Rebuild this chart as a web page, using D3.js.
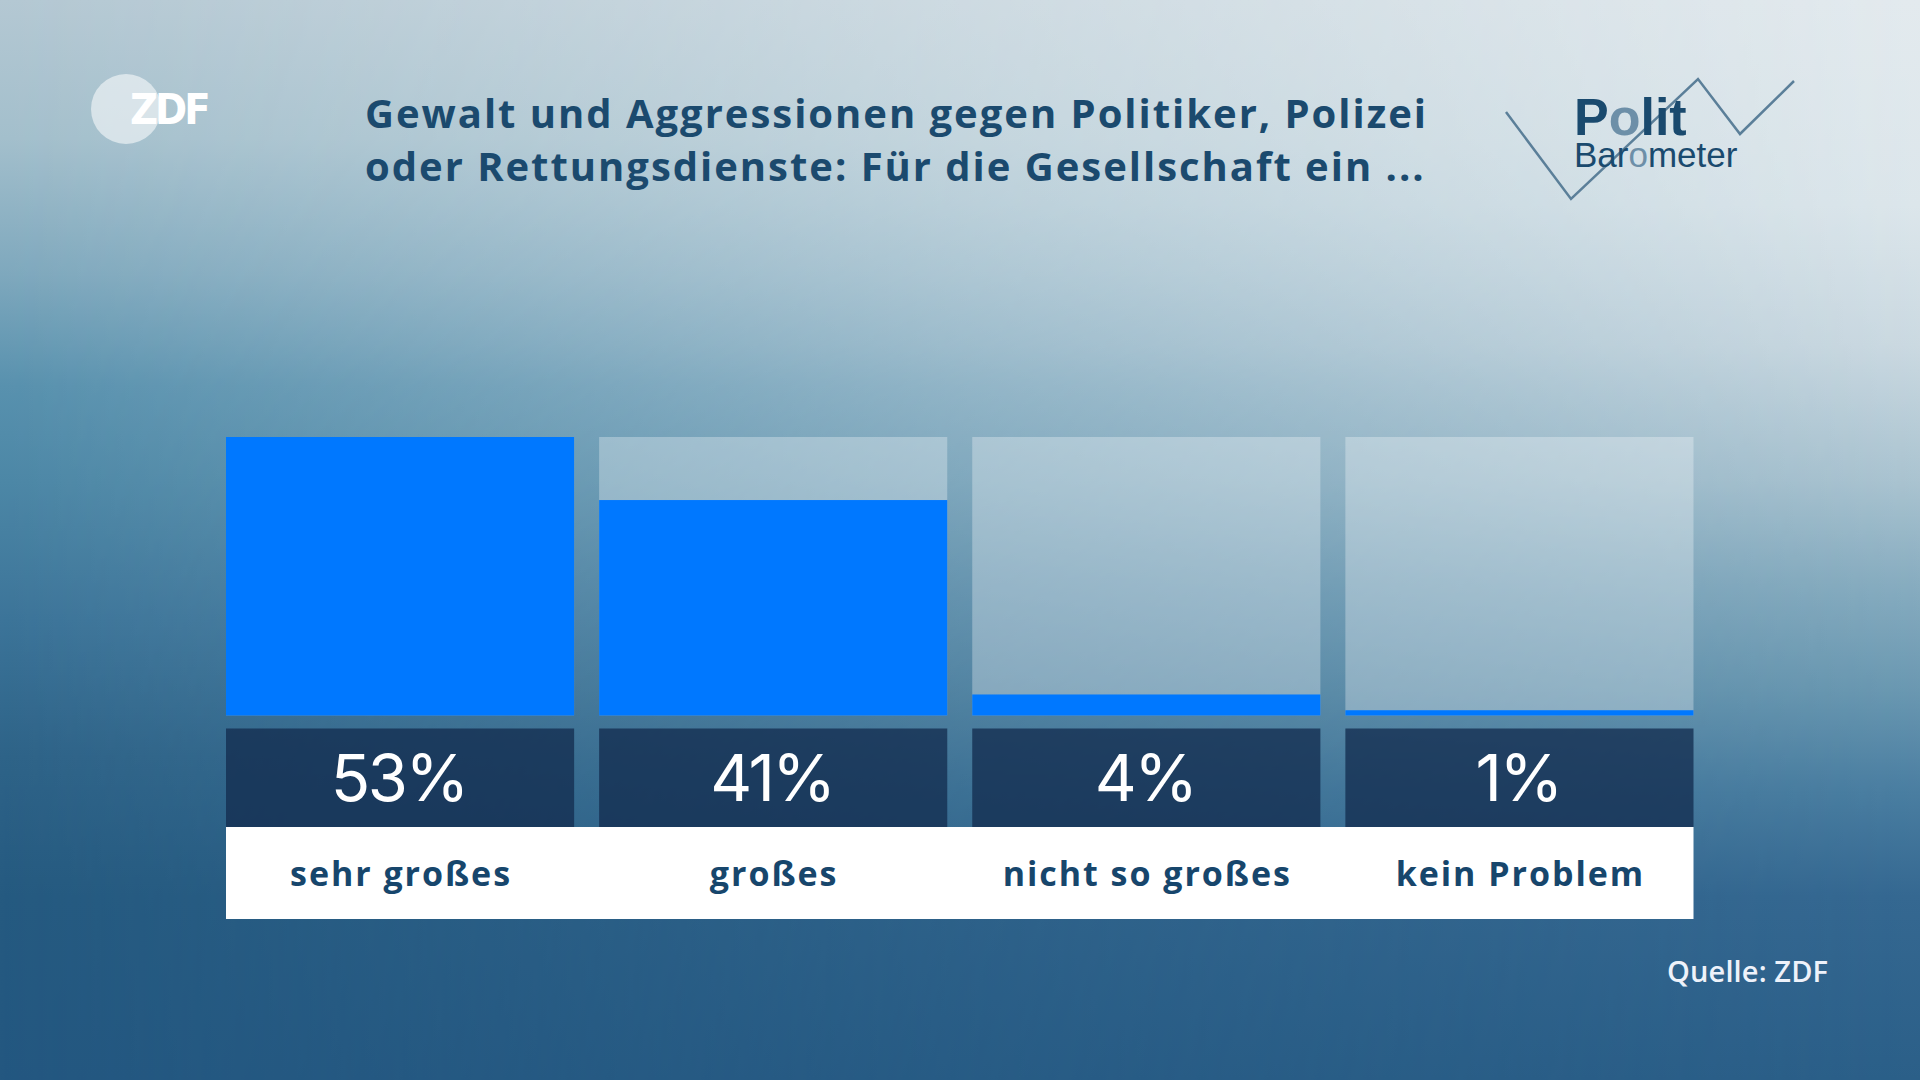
<!DOCTYPE html>
<html>
<head>
<meta charset="utf-8">
<script src="https://cdn.jsdelivr.net/npm/d3@7"></script>
<style>
  html, body { margin: 0; padding: 0; width: 1920px; height: 1080px; overflow: hidden; }
  svg { display: block; }
</style>
</head>
<body>
<svg id="chart" width="1920" height="1080"></svg>
<script>
// ---- data ----
const categories = ["sehr großes", "großes", "nicht so großes", "kein Problem"];
const values = [53, 41, 4, 1];
const valueLabels = ["53%", "41%", "4%", "1%"];
const titleLines = ["Gewalt und Aggressionen gegen Politiker, Polizei", "oder Rettungsdienste: Für die Gesellschaft ein ..."];
const sourceText = "Quelle: ZDF";

const svg = d3.select("#chart");
const W = 1920, H = 1080;
const defs = svg.append("defs");

// background: left-edge and right-edge vertical gradients blended horizontally
function vGrad(id, stops) {
  const lg = defs.append("linearGradient").attr("id", id)
    .attr("gradientUnits", "userSpaceOnUse").attr("x1", 0).attr("y1", 0).attr("x2", 0).attr("y2", H);
  stops.forEach(([o, c]) => lg.append("stop").attr("offset", o).attr("stop-color", c));
}
vGrad("bgL", [[0, "#b4c8d3"], [0.128, "#a3bfcc"], [0.255, "#7ea8bd"], [0.357, "#5891ae"], [0.446, "#4c87a6"],
  [0.574, "#3c7499"], [0.70, "#2e6388"], [0.83, "#255a80"], [1, "#235780"]]);
vGrad("bgR", [[0, "#e3eaee"], [0.19, "#dce6eb"], [0.32, "#cbd9e1"], [0.446, "#aac3d0"], [0.54, "#88adc0"],
  [0.64, "#6a98b1"], [0.733, "#4a7ea1"], [0.83, "#356891"], [1, "#2b5f88"]]);
const hm = defs.append("linearGradient").attr("id", "hmask")
  .attr("gradientUnits", "userSpaceOnUse").attr("x1", 0).attr("y1", 0).attr("x2", W).attr("y2", 0);
[[0, "#000"], [0.5, "#8c8c8c"], [1, "#fff"]].forEach(([o, c]) => hm.append("stop").attr("offset", o).attr("stop-color", c));
defs.append("mask").attr("id", "blend").attr("maskUnits", "userSpaceOnUse")
  .attr("x", 0).attr("y", 0).attr("width", W).attr("height", H)
  .append("rect").attr("width", W).attr("height", H).attr("fill", "url(#hmask)");

svg.append("rect").attr("width", W).attr("height", H).attr("fill", "url(#bgL)");
svg.append("rect").attr("width", W).attr("height", H).attr("fill", "url(#bgR)").attr("mask", "url(#blend)");

// fit helper: letter-spacing so a sample text reaches a target width
function fitSpacing(f, sample, target) {
  const tmp = svg.append("text").attr("font-family", f.fam).attr("font-weight", f.wt).attr("font-size", f.size).text(sample);
  const w = tmp.node().getComputedTextLength();
  tmp.remove();
  return (target - w) / (sample.length);
}

// ---- scales ----
const x = d3.scaleBand().domain(categories).range([226, 1693.5]).paddingInner(0.067).paddingOuter(0);
const barTop = 437, barBottom = 715.5;
const y = d3.scaleLinear().domain([0, d3.max(values)]).range([barBottom, barTop]);

const g = svg.append("g");

// slots
g.selectAll("rect.slot").data(categories).join("rect")
  .attr("class", "slot")
  .attr("x", d => x(d)).attr("width", x.bandwidth())
  .attr("y", y(d3.max(values))).attr("height", y(0) - y(d3.max(values)))
  .attr("fill", "#ffffff").attr("fill-opacity", 0.3);

// bars
g.selectAll("rect.bar").data(values).join("rect")
  .attr("class", "bar")
  .attr("x", (d, i) => x(categories[i])).attr("width", x.bandwidth())
  .attr("y", d => y(d)).attr("height", d => y(0) - y(d))
  .attr("fill", "#0078ff");

// dark value boxes
const boxTop = 728.5, boxBottom = 827;
g.selectAll("rect.vbox").data(categories).join("rect")
  .attr("class", "vbox")
  .attr("x", d => x(d)).attr("width", x.bandwidth())
  .attr("y", boxTop).attr("height", boxBottom - boxTop)
  .attr("fill", "#132d4f").attr("fill-opacity", 0.78);

const valFont = { fam: "Inter, sans-serif", wt: 400, size: 65 };
const valLS = fitSpacing(valFont, "53%", 136);
g.selectAll("text.val").data(valueLabels).join("text")
  .attr("class", "val")
  .attr("x", (d, i) => x(categories[i]) + x.bandwidth() / 2 + valLS / 2)
  .attr("y", 801)
  .attr("text-anchor", "middle")
  .attr("font-family", valFont.fam)
  .attr("font-weight", valFont.wt)
  .attr("font-size", valFont.size)
  .attr("letter-spacing", valLS)
  .attr("fill", "#ffffff")
  .text(d => d);

// white label band
const labTop = 827, labBottom = 919;
g.append("rect")
  .attr("x", x.range()[0]).attr("width", x.range()[1] - x.range()[0])
  .attr("y", labTop).attr("height", labBottom - labTop)
  .attr("fill", "#ffffff");

const catFont = { fam: "'Open Sans', sans-serif", wt: 700, size: 34 };
const catLS = fitSpacing(catFont, "sehr großes", 222);
g.selectAll("text.cat").data(categories).join("text")
  .attr("class", "cat")
  .attr("x", d => x(d) + x.bandwidth() / 2 + catLS / 2)
  .attr("y", 886)
  .attr("text-anchor", "middle")
  .attr("font-family", catFont.fam)
  .attr("font-weight", catFont.wt)
  .attr("font-size", catFont.size)
  .attr("letter-spacing", catLS)
  .attr("fill", "#17466c")
  .text(d => d);

// title
const titleFont = { fam: "'Open Sans', sans-serif", wt: 700, size: 40 };
const titleLS = fitSpacing(titleFont, titleLines[0], 1063);
svg.append("g").selectAll("text").data(titleLines).join("text")
  .attr("x", 365)
  .attr("y", (d, i) => 128 + i * 53)
  .attr("font-family", titleFont.fam)
  .attr("font-weight", titleFont.wt)
  .attr("font-size", titleFont.size)
  .attr("letter-spacing", titleLS)
  .attr("fill", "#1b4a6e")
  .text(d => d);

// source
const srcFont = { fam: "'Open Sans', sans-serif", wt: 600, size: 29 };
const srcLS = fitSpacing(srcFont, sourceText, 161);
svg.append("text")
  .attr("x", 1828 + srcLS).attr("y", 982)
  .attr("text-anchor", "end")
  .attr("font-family", srcFont.fam)
  .attr("font-weight", srcFont.wt)
  .attr("font-size", srcFont.size)
  .attr("letter-spacing", srcLS)
  .attr("fill", "#eef2fa")
  .text(sourceText);

// ZDF logo
const zdf = svg.append("g");
zdf.append("circle").attr("cx", 126).attr("cy", 109).attr("r", 35).attr("fill", "#ffffff").attr("fill-opacity", 0.55);
zdf.append("text").attr("x", 130).attr("y", 124)
  .attr("font-family", "'DejaVu Sans Condensed', 'DejaVu Sans', sans-serif")
  .attr("font-weight", 700).attr("font-size", 43).attr("letter-spacing", -3)
  .attr("fill", "#ffffff").text("ZDF");

// Politbarometer logo (one text element, two lines)
const pb = svg.append("g");
const zig = [[1506, 112], [1571, 199], [1698, 79], [1740, 134], [1794, 81]];
pb.append("path").attr("d", d3.line()(zig)).attr("fill", "none").attr("stroke", "#5b7f99").attr("stroke-width", 2.5);
const logo = pb.append("text").attr("x", 1574).attr("y", 135)
  .attr("font-family", "'Liberation Sans', Arial, sans-serif")
  .attr("fill", "#1a4a6e");
const light = "#6d8fa8";
[["P", null, 700, 52], ["o", light, 700, 52], ["lit", null, 700, 52]].forEach(([t, c, w, s]) => {
  const ts = logo.append("tspan").attr("font-weight", w).attr("font-size", s).text(t);
  if (c) ts.attr("fill", c);
});
[["Bar", null], ["o", light], ["meter", null]].forEach(([t, c], i) => {
  const ts = logo.append("tspan").attr("font-weight", 400).attr("font-size", 35).text(t);
  if (i === 0) ts.attr("x", 1574).attr("y", 167);
  if (c) ts.attr("fill", c);
});
</script>
</body>
</html>
